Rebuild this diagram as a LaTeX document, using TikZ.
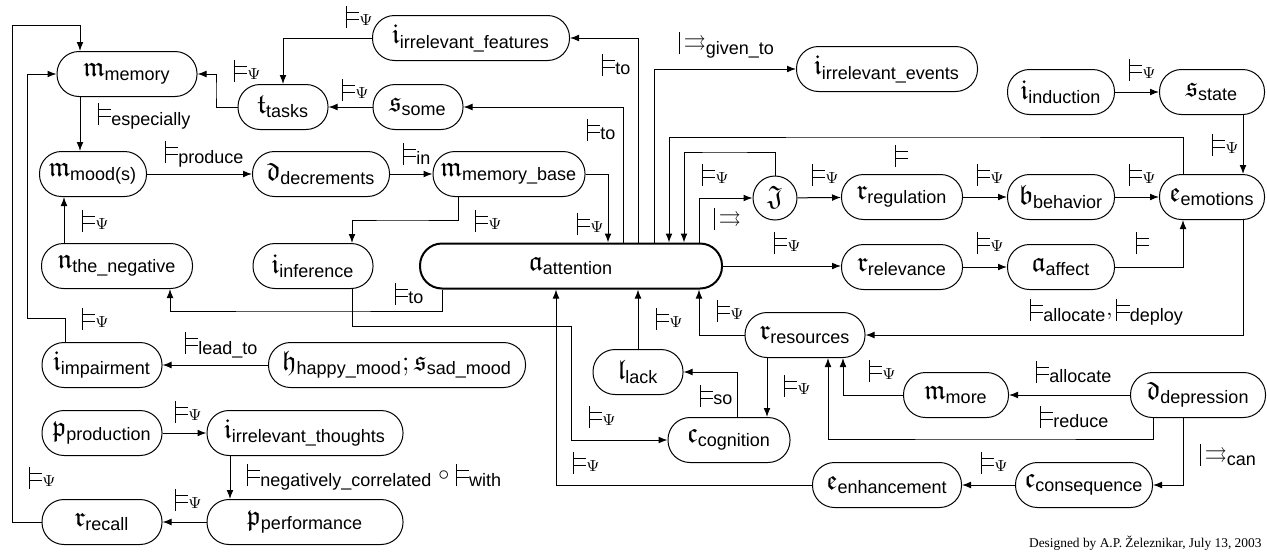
\documentclass[tikz,border=0pt]{standalone}
\usepackage{amssymb}
\usepackage{fontspec}
\setsansfont{Liberation Sans}
\newfontfamily\footfont{Liberation Serif}
\usetikzlibrary{arrows.meta}

% sans subscript, node text, entailment symbols built from rules
\newcommand{\lsub}[1]{\hbox{\fontsize{9}{10}\sffamily #1}}
\newcommand{\nt}[2]{$\mathfrak{#1}_{\lsub{#2}}$}
\newcommand{\entbar}{\smash{\rule[-2.6pt]{0.45pt}{10.8pt}}}
\newcommand{\ent}{\mathrel{\hbox{\entbar\rlap{\rule[1.2pt]{6.4pt}{0.45pt}}\rule[4.9pt]{6.4pt}{0.45pt}}}}
\newcommand{\mto}{\mathrel{\hbox{\entbar}\mkern-1.5mu\rightrightarrows}}
\newcommand{\lps}{$\vphantom{|}\ent_{\Psi}$}
\newcommand{\lto}[1]{$\vphantom{|}\ent_{\lsub{#1}}$}

\begin{document}
\begin{tikzpicture}[x=0.5pt, y=-0.5pt, line width=0.5pt,
    box/.style={draw, rounded corners=11pt, minimum height=22.5pt, minimum width=#1*0.5pt, inner sep=1pt, font=\fontsize{14}{16}\selectfont},
    box/.default=100,
    circ/.style={draw, circle, minimum size=22pt, inner sep=0pt, font=\fontsize{14}{16}\selectfont},
    lbl/.style={anchor=west, inner sep=0pt, font=\fontsize{11}{13}\selectfont},
    arr/.style={-{Latex[length=4.5pt, width=3.4pt]}}
]
\useasboundingbox (0,0) rectangle (1267,552);

% nodes
\node[box=140] (memory) at (127,74) {\nt{m}{memory}};
\node[box=197] (feat) at (471,38) {\nt{i}{irrelevant\_features}};
\node[box=90] (tasks) at (283,107) {\nt{t}{tasks}};
\node[box=90] (some) at (418,107) {\nt{s}{some}};
\node[box=181] (events) at (887,69) {\nt{i}{irrelevant\_events}};
\node[box=107] (induction) at (1061,92) {\nt{i}{induction}};
\node[box=105] (state) at (1212,92) {\nt{s}{state}};
\node[box=107] (mood) at (93,174) {\nt{m}{mood(s)}};
\node[box=137] (decrements) at (321,174) {\nt{d}{decrements}};
\node[box=152] (mbase) at (509,174) {\nt{m}{memory\_base}};
\node[circ] (J) at (775,198) {$\mathfrak{J}$};
\node[box=121] (regulation) at (902,197) {\nt{r}{regulation}};
\node[box=107] (behavior) at (1061,197) {\nt{b}{behavior}};
\node[box=105] (emotions) at (1212,197) {\nt{e}{emotions}};
\node[box=151] (negative) at (117,266) {\nt{n}{the\_negative}};
\node[box=120] (inference) at (313,266) {\nt{i}{inference}};
\node[box=302, line width=1pt] (attention) at (571,266) {\nt{a}{attention}};
\node[box=121] (relevance) at (902,267) {\nt{r}{relevance}};
\node[box=107] (affect) at (1061,267) {\nt{a}{affect}};
\node[box=120] (resources) at (805,335) {\nt{r}{resources}};
\node[box=120] (impairment) at (102,365) {\nt{i}{impairment}};
\node[box=257] (happysad) at (397,365) {$\mathfrak{h}_{\lsub{happy\_mood}};\mathfrak{s}_{\lsub{sad\_mood}}$};
\node[box=90] (lack) at (638,372) {\nt{l}{lack}};
\node[box=105] (more) at (956,395) {\nt{m}{more}};
\node[box=135] (depression) at (1198,395) {\nt{d}{depression}};
\node[box=120] (production) at (102,433) {\nt{p}{production}};
\node[box=196] (thoughts) at (305,433) {\nt{i}{irrelevant\_thoughts}};
\node[box=122] (cognition) at (729,440) {\nt{c}{cognition}};
\node[box=137] (consequence) at (1084,485) {\nt{c}{consequence}};
\node[box=149] (enhancement) at (887,485) {\nt{e}{enhancement}};
\node[box=120] (recall) at (102,522) {\nt{r}{recall}};
\node[box=196] (performance) at (305,522) {\nt{p}{performance}};

% connectors, left part
\draw[arr] (recall.west) -| (12,25) -| (memory.north -| 80,0);
\draw[arr] (impairment.north -| 65,0) |- (27,318) |- (memory.west);
\draw[arr] (memory.south -| 80,0) -- (mood.north -| 80,0);
\draw[arr] (tasks.west) -| (216,90) |- (memory.east);
\draw[arr] (feat.west) -| (tasks.north);
\draw[arr] (some.west) -- (tasks.east);
\draw[arr] (mood) -- (decrements);
\draw[arr] (decrements) -- (mbase);
\draw[arr] (mbase.south -| 458,0) |- (400,220) -| (inference.north -| 352,0);
\draw[arr] (negative.north -| 64,0) -- (mood.south -| 64,0);
\draw[arr] (happysad) -- (impairment);
\draw[arr] (production) -- (thoughts);
\draw[arr] (thoughts.south -| 230,0) -- (performance.north -| 230,0);
\draw[arr] (performance) -- (recall);

% connectors round attention
\draw[arr] (attention.north -| 638,0) |- (feat.east);
\draw[arr] (attention.north -| 623,0) |- (some.east);
\draw[arr] (mbase.east) -| (attention.north -| 608,0);
\draw[arr] (attention.north -| 654,0) |- (events.west);
\draw[arr] (emotions.north -| 1183,0) |- (900,137) -| (attention.north -| 669,0);
\draw[arr] (J.north) |- (720,152) -| (attention.north -| 684,0);
\draw[arr] (attention.north -| 699,0) |- (J.west);
\draw[arr] (attention.south -| 442,0) |- (300,311) -| (negative.south -| 170,0);
\draw[arr] (inference.south -| 352,0) |- (571,326) |- (cognition.west);
\draw[arr] (enhancement.west) -| (attention.south -| 556,0);
\draw[arr] (lack.north) -- (lack.north |- attention.south);
\draw[arr] (resources.west) -| (attention.south -| 699,0);
\draw[arr] (attention.east) -- (attention.east -| relevance.west);

% connectors, right part
\draw[arr] (J) -- (regulation);
\draw[arr] (regulation) -- (behavior);
\draw[arr] (behavior) -- (emotions);
\draw[arr] (relevance) -- (affect);
\draw[arr] (affect.east) -| (emotions.south -| 1183,0);
\draw[arr] (induction) -- (state);
\draw[arr] (state.south -| 1243,0) -- (emotions.north -| 1243,0);
\draw[arr] (emotions.south -| 1243,0) |- (resources.east);
\draw[arr] (cognition.north -| 737,0) |- (lack.east);
\draw[arr] (resources.south -| 767,0) -- (cognition.north -| 767,0);
\draw[arr] (depression) -- (more);
\draw[arr] (more.west) -| (resources.south -| 843,0);
\draw[arr] (depression.south -| 1153,0) |- (1000,439) -| (resources.south -| 828,0);
\draw[arr] (depression.south -| 1183,0) |- (consequence.east);
\draw[arr] (consequence) -- (enhancement);

% labels
\node[lbl] (l-esp) at (91,116) {\lto{especially}};
\node[lbl] (l-tm) at (227,71) {\lps};
\node[lbl] (l-ft) at (339,17) {\lps};
\node[lbl] (l-st) at (335,90) {\lps};
\node[lbl] (l-prod) at (158,154) {\lto{produce}};
\node[lbl] (l-in) at (396,154) {\lto{in}};
\node[lbl] (l-to1) at (595,65) {\lto{to}};
\node[lbl] (l-to2) at (580,130) {\lto{to}};
\node[lbl] (l-given) at (672,45) {$\vphantom{|}\mto_{\lsub{given\_to}}$};
\node[lbl] (l-is) at (1122,70) {\lps};
\node[lbl] (l-se) at (1205,145) {\lps};
\node[lbl] (l-ea) at (888,156) {$\vphantom{|}\ent$};
\node[lbl] (l-rb) at (970,175) {\lps};
\node[lbl] (l-be) at (1122,175) {\lps};
\node[lbl] (l-jr) at (805,175) {\lps};
\node[lbl] (l-ja) at (695,175) {\lps};
\node[lbl] (l-aj) at (707,219) {$\vphantom{|}\mto$};
\node[lbl] (l-ma) at (570,224) {\lps};
\node[lbl] (l-mi) at (468,221) {\lps};
\node[lbl] (l-nm) at (75,221) {\lps};
\node[lbl] (l-to3) at (388,294) {\lto{to}};
\node[lbl] (l-im) at (75,319) {\lps};
\node[lbl] (l-lead) at (178,345) {\lto{lead\_to}};
\node[lbl] (l-ar) at (767,243) {\lps};
\node[lbl] (l-ra) at (970,243) {\lps};
\node[lbl] (l-ae) at (1129,243) {$\vphantom{|}\ent$};
\node[lbl] (l-alldep) at (1023,312) {$\vphantom{|}\ent_{\lsub{allocate}}, \ent_{\lsub{deploy}}$};
\node[lbl] (l-rsa) at (710,311) {\lps};
\node[lbl] (l-la) at (649,319) {\lps};
\node[lbl] (l-so) at (693,396) {\lto{so}};
\node[lbl] (l-rc) at (777,386) {\lps};
\node[lbl] (l-ic) at (582,417) {\lps};
\node[lbl] (l-ea2) at (566,463) {\lps};
\node[lbl] (l-mr) at (862,371) {\lps};
\node[lbl] (l-alloc) at (1029,372) {\lto{allocate}};
\node[lbl] (l-red) at (1033,417) {\lto{reduce}};
\node[lbl] (l-can) at (1193,455) {$\vphantom{|}\mto_{\lsub{can}}$};
\node[lbl] (l-ce) at (974,463) {\lps};
\node[lbl] (l-pt) at (168,412) {\lps};
\node[lbl] (l-neg) at (240,477) {$\vphantom{|}\ent_{\lsub{negatively\_correlated}}\circ\ent_{\lsub{with}}$};
\node[lbl] (l-pr) at (168,500) {\lps};
\node[lbl] (l-rm) at (22,478) {\lps};

\node[anchor=base east, inner sep=0pt, font=\fontsize{6.7}{8}\footfont] (credit) at (1262,547) {Designed by A.P. Železnikar, July 13, 2003};
\end{tikzpicture}
\end{document}
